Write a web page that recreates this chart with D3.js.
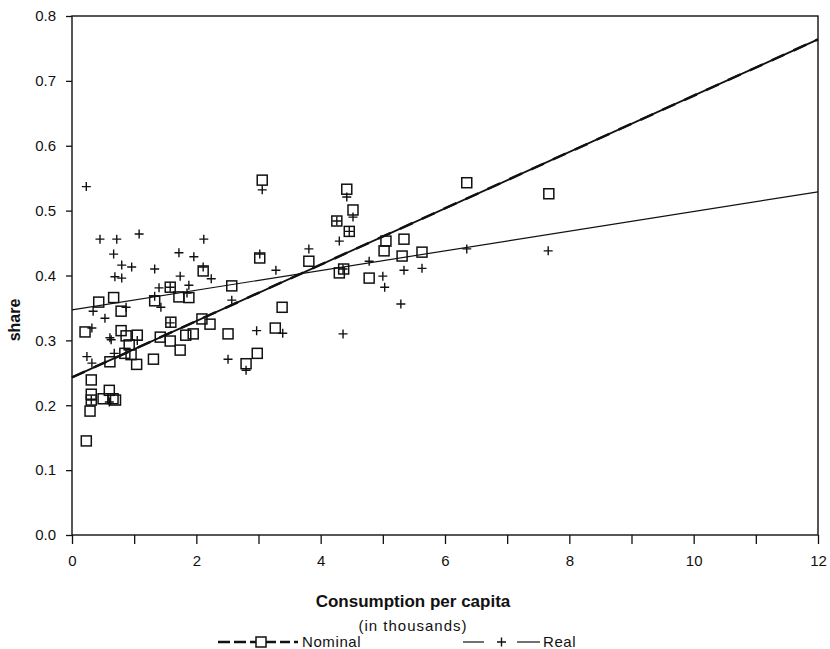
<!DOCTYPE html>
<html>
<head>
<meta charset="utf-8">
<script src="https://cdn.jsdelivr.net/npm/d3@7"></script>
<style>
  body { margin: 0; background: #fff; }
  svg text { font-family: "Liberation Sans", Arial, sans-serif; fill: #111; }
</style>
</head>
<body>
<svg id="chart" width="830" height="649"></svg>
<script>
// nominal shares [consumption per capita (thousands), share]
let nominal = [
    [0.23, 0.145], [0.21, 0.313], [0.31, 0.239], [0.31, 0.217], [0.31, 0.208], [0.29, 0.191],
    [0.43, 0.359], [0.50, 0.210], [0.60, 0.223], [0.61, 0.267], [0.66, 0.210], [0.70, 0.208],
    [0.67, 0.366], [0.79, 0.345], [0.79, 0.315], [0.85, 0.280], [0.87, 0.307], [0.92, 0.293],
    [0.95, 0.278], [1.04, 0.263], [1.05, 0.308], [1.31, 0.271], [1.33, 0.361], [1.42, 0.305],
    [1.58, 0.382], [1.59, 0.328], [1.58, 0.299], [1.72, 0.367], [1.74, 0.285], [1.83, 0.308],
    [1.88, 0.366], [1.95, 0.310], [2.09, 0.333], [2.11, 0.407], [2.22, 0.325], [2.51, 0.310],
    [2.57, 0.384], [2.80, 0.264], [2.98, 0.280], [3.02, 0.427], [3.06, 0.547], [3.27, 0.319],
    [3.38, 0.351], [3.81, 0.422], [4.26, 0.484], [4.30, 0.404], [4.37, 0.410], [4.42, 0.533],
    [4.46, 0.468], [4.52, 0.501], [4.78, 0.396], [5.02, 0.438], [5.05, 0.453], [5.31, 0.430],
    [5.34, 0.456], [5.63, 0.436], [6.35, 0.543], [7.67, 0.526]
];

// real shares
let real = [
    [0.23, 0.537], [0.24, 0.275], [0.32, 0.265], [0.32, 0.319], [0.34, 0.345], [0.31, 0.208],
    [0.45, 0.456], [0.53, 0.334], [0.60, 0.205], [0.61, 0.304], [0.63, 0.301], [0.67, 0.433],
    [0.68, 0.280], [0.69, 0.398], [0.72, 0.456], [0.80, 0.416], [0.80, 0.396], [0.87, 0.351],
    [0.96, 0.413], [1.05, 0.300], [1.08, 0.464], [1.33, 0.410], [1.33, 0.368], [1.40, 0.381],
    [1.43, 0.351], [1.58, 0.382], [1.58, 0.327], [1.72, 0.435], [1.74, 0.399], [1.85, 0.373],
    [1.88, 0.385], [1.96, 0.429], [2.11, 0.413], [2.12, 0.456], [2.24, 0.395], [2.51, 0.271],
    [2.57, 0.362], [2.80, 0.254], [2.97, 0.315], [3.02, 0.433], [3.06, 0.532], [3.28, 0.408],
    [3.39, 0.311], [3.81, 0.441], [4.26, 0.484], [4.30, 0.453], [4.36, 0.410], [4.36, 0.310],
    [4.42, 0.521], [4.46, 0.468], [4.52, 0.490], [4.78, 0.422], [5.00, 0.399], [5.03, 0.382],
    [5.29, 0.356], [5.34, 0.408], [5.63, 0.411], [6.35, 0.441], [7.66, 0.438]
];

// fitted lines, endpoints at x = 0 and x = 12
let nominalFit = [[0, 0.243], [12, 0.764]];
let realFit = [[0, 0.347], [12, 0.529]];

let xTicks = d3.range(0, 13, 1);
let xTickLabels = [0, 2, 4, 6, 8, 10, 12];
let yTicks = [0, 0.1, 0.2, 0.3, 0.4, 0.5, 0.6, 0.7, 0.8];

let svg = d3.select("#chart");
let plotLeft = 72, plotRight = 818, plotTop = 16, plotBottom = 535;

let x = d3.scaleLinear().domain([0, 12]).range([plotLeft, plotRight]);
let y = d3.scaleLinear().domain([0, 0.8]).range([plotBottom, plotTop]);

// axes
let xAxis = d3.axisBottom(x)
    .tickValues(xTicks)
    .tickSize(9)
    .tickPadding(11)
    .tickFormat(d => xTickLabels.includes(d) ? d : "");
let yAxis = d3.axisLeft(y)
    .tickValues(yTicks)
    .tickSize(6)
    .tickPadding(10)
    .tickFormat(d3.format(".1f"));

let gx = svg.append("g").attr("transform", `translate(0,${plotBottom})`).call(xAxis);
let gy = svg.append("g").attr("transform", `translate(${plotLeft},0)`).call(yAxis);
[gx, gy].forEach(g => {
    g.select(".domain").remove();
    g.selectAll("line").attr("stroke", "#111").attr("stroke-width", 1.3);
    g.selectAll("text").style("font-size", "15px").attr("fill", "#111");
});

// frame
svg.append("rect")
    .attr("x", plotLeft).attr("y", plotTop)
    .attr("width", plotRight - plotLeft).attr("height", plotBottom - plotTop)
    .attr("fill", "none").attr("stroke", "#111").attr("stroke-width", 1.4);

// regression lines
let line = d3.line().x(d => x(d[0])).y(d => y(d[1]));
svg.append("path").attr("d", line(nominalFit))
    .attr("fill", "none").attr("stroke", "#111").attr("stroke-width", 1.8);
svg.append("path").attr("d", line(nominalFit))
    .attr("fill", "none").attr("stroke", "#111").attr("stroke-width", 2.5)
    .attr("stroke-dasharray", "14 10");
svg.append("path").attr("d", line(realFit))
    .attr("fill", "none").attr("stroke", "#111").attr("stroke-width", 1.2);

// markers
let sq = 10;
svg.append("g").selectAll("rect")
    .data(nominal)
    .enter()
    .append("rect")
        .attr("x", d => x(d[0]) - sq / 2)
        .attr("y", d => y(d[1]) - sq / 2)
        .attr("width", sq).attr("height", sq)
        .attr("fill", "none").attr("stroke", "#111").attr("stroke-width", 1.5);

svg.append("g").selectAll("path")
    .data(real)
    .enter()
    .append("path")
        .attr("d", d => `M${x(d[0]) - 4.5},${y(d[1])}h9M${x(d[0])},${y(d[1]) - 4.5}v9`)
        .attr("stroke", "#111").attr("stroke-width", 1.4);

// axis titles
svg.append("text")
    .attr("transform", "translate(20,320) rotate(-90)")
    .attr("text-anchor", "middle")
    .style("font-size", "16px").style("font-weight", "bold")
    .text("share");

svg.append("text")
    .attr("x", 413).attr("y", 607)
    .attr("text-anchor", "middle")
    .style("font-size", "17px").style("font-weight", "bold")
    .text("Consumption per capita");

svg.append("text")
    .attr("x", 413).attr("y", 631)
    .attr("text-anchor", "middle")
    .style("font-size", "15px").style("letter-spacing", "1px")
    .text("(in thousands)");

// legend
let lg = svg.append("g");
let ly = 642;
lg.append("line").attr("x1", 218).attr("x2", 256).attr("y1", ly).attr("y2", ly)
    .attr("stroke", "#111").attr("stroke-width", 2.4).attr("stroke-dasharray", "12 4");
lg.append("line").attr("x1", 266).attr("x2", 298).attr("y1", ly).attr("y2", ly)
    .attr("stroke", "#111").attr("stroke-width", 2.4).attr("stroke-dasharray", "10 4");
lg.append("rect").attr("x", 256).attr("y", ly - 5).attr("width", 10).attr("height", 10)
    .attr("fill", "none").attr("stroke", "#111").attr("stroke-width", 1.5);
lg.append("text").attr("x", 302).attr("y", ly + 5).style("font-size", "15px")
    .style("letter-spacing", "0.6px").text("Nominal");

lg.append("line").attr("x1", 463).attr("x2", 484).attr("y1", ly).attr("y2", ly)
    .attr("stroke", "#111").attr("stroke-width", 1.2);
lg.append("path").attr("d", `M${497},${ly}h9M${501.5},${ly - 4.5}v9`)
    .attr("stroke", "#111").attr("stroke-width", 1.4);
lg.append("line").attr("x1", 517).attr("x2", 540).attr("y1", ly).attr("y2", ly)
    .attr("stroke", "#111").attr("stroke-width", 1.2);
lg.append("text").attr("x", 543).attr("y", ly + 5).style("font-size", "15px")
    .style("letter-spacing", "0.6px").text("Real");
</script>
</body>
</html>
